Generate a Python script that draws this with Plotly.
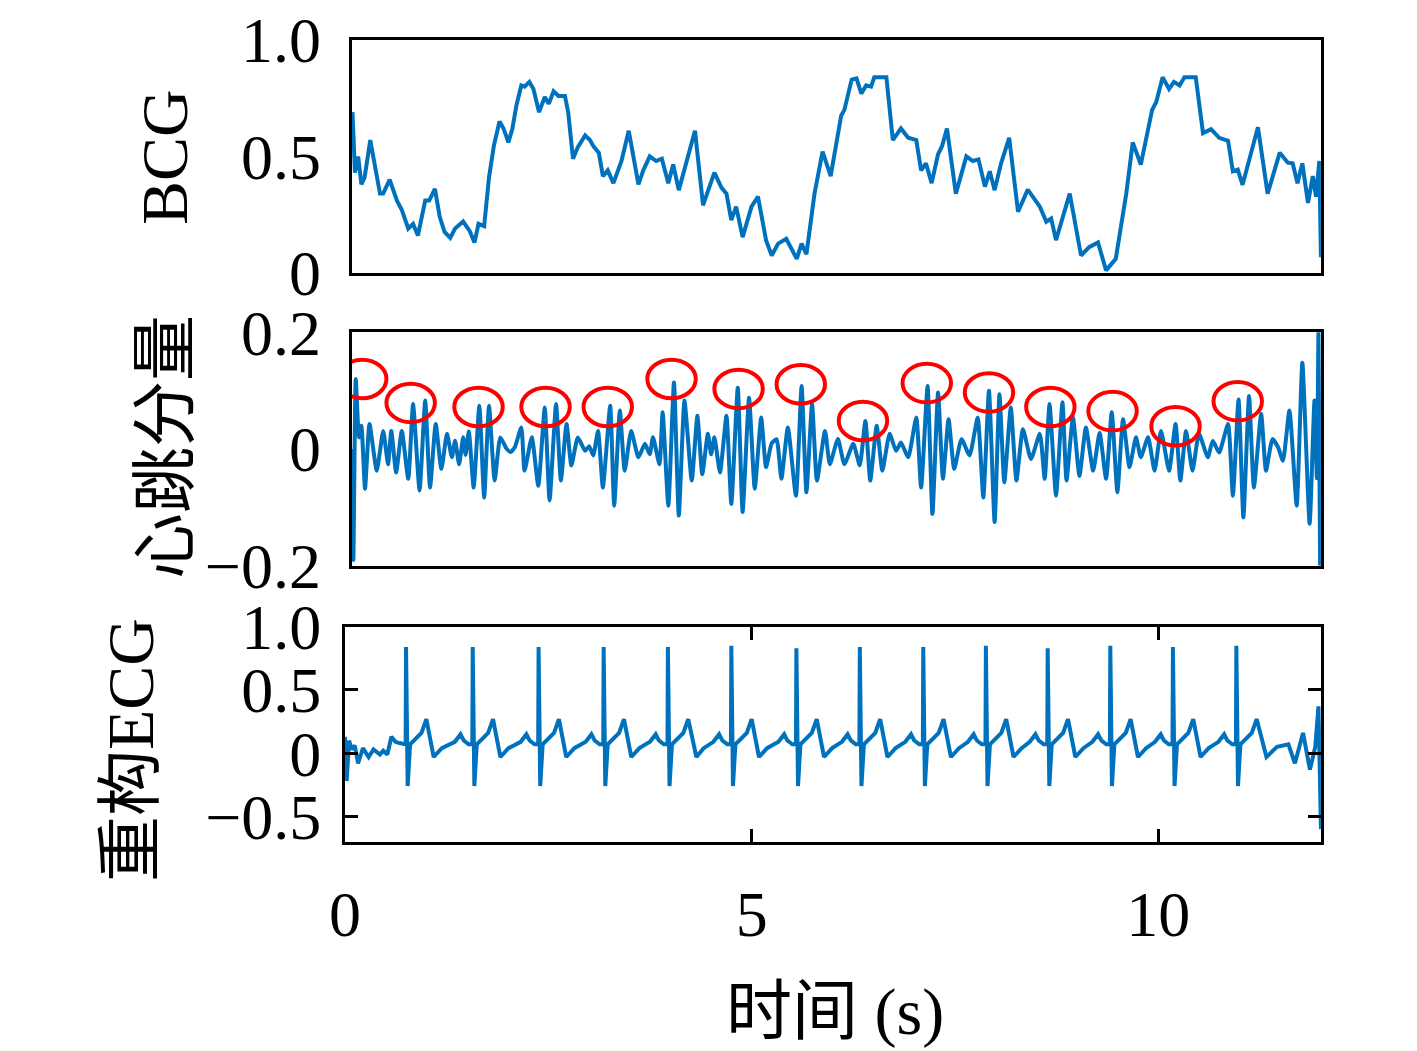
import plotly.graph_objects as go

# BCG signal (time s, amplitude)
bcg = [
    (0.01, 0.69), (0.04, 0.43), (0.08, 0.50), (0.12, 0.38), (0.16, 0.41), (0.23, 0.57),
    (0.35, 0.34), (0.39, 0.34), (0.47, 0.40), (0.56, 0.31), (0.62, 0.27), (0.70, 0.19),
    (0.76, 0.21), (0.82, 0.16), (0.91, 0.31), (0.96, 0.31), (1.03, 0.36), (1.09, 0.24),
    (1.15, 0.175), (1.22, 0.15), (1.28, 0.19), (1.38, 0.22), (1.46, 0.18), (1.52, 0.13),
    (1.57, 0.21), (1.64, 0.20), (1.70, 0.41), (1.76, 0.545), (1.83, 0.65), (1.88, 0.62),
    (1.94, 0.56), (1.99, 0.62), (2.04, 0.72), (2.10, 0.805), (2.14, 0.80), (2.20, 0.82),
    (2.25, 0.79), (2.32, 0.69), (2.39, 0.755), (2.44, 0.726), (2.50, 0.78), (2.56, 0.76),
    (2.64, 0.76), (2.68, 0.69), (2.74, 0.49), (2.80, 0.54), (2.89, 0.59), (2.95, 0.57),
    (2.99, 0.545), (3.06, 0.515), (3.11, 0.415), (3.17, 0.44), (3.24, 0.385), (3.34, 0.48),
    (3.43, 0.61), (3.55, 0.38), (3.61, 0.44), (3.69, 0.50), (3.77, 0.48), (3.84, 0.49),
    (3.92, 0.385), (3.98, 0.465), (4.05, 0.355), (4.14, 0.47), (4.25, 0.61), (4.35, 0.29),
    (4.49, 0.43), (4.58, 0.365), (4.64, 0.34), (4.70, 0.226), (4.76, 0.284), (4.84, 0.153),
    (4.95, 0.284), (5.03, 0.327), (5.13, 0.14), (5.20, 0.074), (5.28, 0.125), (5.38, 0.146),
    (5.44, 0.11), (5.51, 0.06), (5.57, 0.125), (5.63, 0.08), (5.73, 0.34), (5.83, 0.52),
    (5.93, 0.415), (6.00, 0.56), (6.06, 0.675), (6.10, 0.70), (6.19, 0.83), (6.25, 0.835),
    (6.31, 0.77), (6.37, 0.805), (6.43, 0.80), (6.47, 0.84), (6.62, 0.84), (6.70, 0.57),
    (6.80, 0.62), (6.89, 0.58), (6.99, 0.57), (7.05, 0.44), (7.11, 0.47), (7.18, 0.385),
    (7.26, 0.51), (7.31, 0.545), (7.37, 0.62), (7.48, 0.34), (7.61, 0.50), (7.69, 0.48),
    (7.76, 0.487), (7.84, 0.37), (7.90, 0.436), (7.96, 0.355), (8.04, 0.47), (8.14, 0.58),
    (8.25, 0.262), (8.37, 0.357), (8.52, 0.284), (8.60, 0.219), (8.66, 0.233), (8.72, 0.14),
    (8.89, 0.34), (9.03, 0.074), (9.13, 0.11), (9.24, 0.13), (9.34, 0.01), (9.46, 0.06),
    (9.59, 0.34), (9.67, 0.56), (9.77, 0.465), (9.91, 0.70), (9.96, 0.733), (10.04, 0.84),
    (10.12, 0.79), (10.18, 0.82), (10.25, 0.805), (10.31, 0.84), (10.45, 0.84), (10.54, 0.60),
    (10.64, 0.617), (10.74, 0.58), (10.85, 0.567), (10.91, 0.436), (10.97, 0.443), (11.03, 0.378),
    (11.15, 0.53), (11.22, 0.625), (11.34, 0.34), (11.49, 0.516), (11.59, 0.473), (11.65, 0.47),
    (11.71, 0.385), (11.77, 0.47), (11.84, 0.30), (11.90, 0.415), (11.94, 0.327), (11.98, 0.48),
    (12.00, 0.067),
]

# heartbeat component (time s, amplitude)
heart = [
    (0.00, 0.00), (0.02, -0.19), (0.05, 0.12), (0.09, 0.02), (0.12, 0.04), (0.165, -0.068),
    (0.22, 0.043), (0.31, -0.037), (0.39, 0.031), (0.45, -0.026), (0.49, 0.031), (0.55, -0.04),
    (0.62, 0.031), (0.70, -0.051), (0.76, 0.077), (0.84, -0.071), (0.91, 0.083), (0.97, -0.066),
    (1.04, 0.043), (1.11, -0.034), (1.18, 0.026), (1.24, -0.014), (1.28, 0.014), (1.33, -0.026),
    (1.38, 0.02), (1.41, -0.01), (1.45, 0.03), (1.51, -0.066), (1.58, 0.074), (1.64, -0.083),
    (1.70, 0.074), (1.77, -0.054), (1.84, 0.02), (1.92, 0.0), (1.97, -0.005), (2.02, 0.003),
    (2.10, 0.037), (2.14, -0.037), (2.23, 0.02), (2.31, -0.063), (2.39, 0.071), (2.45, -0.088),
    (2.53, 0.077), (2.59, -0.054), (2.66, 0.043), (2.72, -0.028), (2.80, 0.02), (2.89, -0.003),
    (2.94, 0.005), (2.99, -0.011), (3.05, 0.031), (3.11, -0.066), (3.20, 0.074), (3.25, -0.097),
    (3.32, 0.066), (3.38, -0.037), (3.46, 0.031), (3.55, -0.014), (3.63, 0.009), (3.69, -0.009),
    (3.73, 0.02), (3.81, -0.026), (3.85, 0.063), (3.92, -0.097), (3.99, 0.114), (4.05, -0.114),
    (4.12, 0.083), (4.21, -0.054), (4.28, 0.057), (4.34, -0.043), (4.41, 0.026), (4.45, -0.009),
    (4.49, 0.02), (4.56, -0.04), (4.64, 0.057), (4.70, -0.094), (4.78, 0.105), (4.84, -0.108),
    (4.92, 0.088), (4.99, -0.068), (5.07, 0.054), (5.13, -0.031), (5.20, 0.01), (5.26, 0.017),
    (5.32, -0.051), (5.40, 0.037), (5.50, -0.08), (5.57, 0.108), (5.63, -0.074), (5.70, 0.077),
    (5.76, -0.054), (5.86, 0.031), (5.92, -0.026), (6.02, 0.017), (6.10, -0.026), (6.21, 0.009),
    (6.29, -0.028), (6.36, 0.048), (6.42, -0.054), (6.50, 0.04), (6.57, -0.037), (6.66, 0.026),
    (6.74, -0.003), (6.80, 0.011), (6.89, -0.014), (6.99, 0.054), (7.05, -0.066), (7.13, 0.108),
    (7.19, -0.111), (7.26, 0.097), (7.32, -0.051), (7.39, 0.051), (7.46, -0.034), (7.55, 0.017),
    (7.65, -0.011), (7.75, 0.054), (7.82, -0.083), (7.89, 0.10), (7.96, -0.125), (8.02, 0.094),
    (8.08, -0.057), (8.16, 0.071), (8.23, -0.054), (8.31, 0.034), (8.41, -0.017), (8.52, 0.026),
    (8.58, -0.051), (8.64, 0.077), (8.72, -0.08), (8.80, 0.08), (8.85, -0.054), (8.93, 0.054),
    (9.01, -0.046), (9.09, 0.037), (9.18, -0.037), (9.26, 0.028), (9.34, -0.051), (9.41, 0.063),
    (9.48, -0.074), (9.55, 0.051), (9.63, -0.031), (9.71, 0.02), (9.77, -0.014), (9.86, 0.02),
    (9.94, -0.037), (10.02, 0.031), (10.12, -0.037), (10.20, 0.043), (10.26, -0.054), (10.33, 0.031),
    (10.41, -0.037), (10.49, 0.026), (10.60, -0.014), (10.66, 0.014), (10.74, -0.006), (10.85, 0.043),
    (10.91, -0.08), (10.98, 0.085), (11.04, -0.117), (11.11, 0.091), (11.17, -0.066), (11.26, 0.06),
    (11.32, -0.037), (11.40, 0.017), (11.47, 0.003), (11.53, -0.02), (11.61, 0.066), (11.70, -0.097),
    (11.77, 0.148), (11.86, -0.128), (11.92, 0.083), (11.95, -0.05), (11.97, 0.20), (11.99, -0.20),
]

# detected beats (circled peaks)
beat_t = [0.13, 0.73, 1.57, 2.40, 3.17, 3.96, 4.79, 5.56, 6.33, 7.12, 7.89, 8.65, 9.42, 10.20, 10.97]
beat_v = [0.12, 0.079, 0.072, 0.072, 0.072, 0.12, 0.103, 0.111, 0.048, 0.113, 0.097, 0.072, 0.065, 0.039, 0.082]

# reconstructed ECG (time s, amplitude)
ecg = [
    (0.00, 0.13), (0.02, -0.22), (0.05, 0.10), (0.08, 0.03), (0.12, 0.06), (0.16, -0.08),
    (0.22, 0.04), (0.29, -0.03), (0.35, 0.03), (0.43, -0.01), (0.47, 0.02), (0.52, -0.01),
    (0.57, 0.13), (0.62, 0.09), (0.67, 0.08), (0.72, 0.07),
    (0.745, 0.07), (0.75, 0.84), (0.77, -0.26), (0.80, 0.07), (0.89, 0.13), (0.94, 0.16),
    (1.00, 0.27), (1.09, -0.03), (1.19, 0.04), (1.29, 0.07), (1.35, 0.09), (1.42, 0.15),
    (1.46, 0.10), (1.52, 0.07),
    (1.565, 0.07), (1.57, 0.84), (1.59, -0.26), (1.62, 0.07), (1.71, 0.13), (1.76, 0.16),
    (1.82, 0.27), (1.91, -0.03), (2.01, 0.04), (2.10, 0.07), (2.16, 0.09), (2.23, 0.15),
    (2.27, 0.10), (2.33, 0.07),
    (2.375, 0.07), (2.38, 0.84), (2.40, -0.26), (2.43, 0.07), (2.52, 0.13), (2.57, 0.16),
    (2.63, 0.27), (2.72, -0.03), (2.82, 0.04), (2.91, 0.07), (2.96, 0.09), (3.03, 0.15),
    (3.07, 0.10), (3.13, 0.07),
    (3.175, 0.07), (3.18, 0.84), (3.20, -0.26), (3.23, 0.07), (3.32, 0.13), (3.37, 0.16),
    (3.43, 0.27), (3.52, -0.03), (3.62, 0.04), (3.70, 0.07), (3.75, 0.09), (3.82, 0.15),
    (3.86, 0.10), (3.92, 0.07),
    (3.965, 0.07), (3.97, 0.84), (3.99, -0.26), (4.02, 0.07), (4.11, 0.13), (4.16, 0.16),
    (4.22, 0.27), (4.32, -0.03), (4.41, 0.04), (4.49, 0.07), (4.53, 0.09), (4.60, 0.15),
    (4.64, 0.10), (4.70, 0.07),
    (4.745, 0.07), (4.75, 0.85), (4.77, -0.26), (4.80, 0.07), (4.89, 0.13), (4.94, 0.16),
    (5.00, 0.27), (5.09, -0.03), (5.19, 0.04), (5.28, 0.07), (5.33, 0.09), (5.40, 0.15),
    (5.44, 0.10), (5.50, 0.07),
    (5.545, 0.07), (5.55, 0.83), (5.57, -0.26), (5.60, 0.07), (5.69, 0.13), (5.74, 0.16),
    (5.80, 0.27), (5.89, -0.03), (5.99, 0.04), (6.07, 0.07), (6.11, 0.09), (6.18, 0.15),
    (6.22, 0.10), (6.28, 0.07),
    (6.325, 0.07), (6.33, 0.84), (6.35, -0.26), (6.38, 0.07), (6.47, 0.13), (6.52, 0.16),
    (6.58, 0.27), (6.67, -0.03), (6.77, 0.04), (6.85, 0.07), (6.89, 0.09), (6.96, 0.15),
    (7.00, 0.10), (7.06, 0.07),
    (7.105, 0.07), (7.11, 0.84), (7.13, -0.26), (7.16, 0.07), (7.25, 0.13), (7.30, 0.16),
    (7.36, 0.27), (7.45, -0.03), (7.55, 0.04), (7.62, 0.07), (7.66, 0.09), (7.73, 0.15),
    (7.77, 0.10), (7.83, 0.07),
    (7.875, 0.07), (7.88, 0.85), (7.90, -0.26), (7.93, 0.07), (8.02, 0.13), (8.07, 0.16),
    (8.13, 0.27), (8.22, -0.03), (8.32, 0.04), (8.38, 0.07), (8.42, 0.09), (8.49, 0.15),
    (8.53, 0.10), (8.59, 0.07),
    (8.635, 0.07), (8.64, 0.83), (8.66, -0.26), (8.69, 0.07), (8.78, 0.13), (8.83, 0.16),
    (8.89, 0.27), (8.98, -0.03), (9.08, 0.04), (9.15, 0.07), (9.19, 0.09), (9.26, 0.15),
    (9.30, 0.10), (9.36, 0.07),
    (9.405, 0.07), (9.41, 0.85), (9.43, -0.26), (9.46, 0.07), (9.55, 0.13), (9.60, 0.16),
    (9.66, 0.27), (9.75, -0.03), (9.85, 0.04), (9.92, 0.07), (9.96, 0.09), (10.03, 0.15),
    (10.07, 0.10), (10.13, 0.07),
    (10.175, 0.07), (10.18, 0.84), (10.20, -0.26), (10.23, 0.07), (10.32, 0.13), (10.37, 0.16),
    (10.43, 0.27), (10.52, -0.03), (10.62, 0.04), (10.70, 0.07), (10.74, 0.09), (10.81, 0.15),
    (10.85, 0.10), (10.91, 0.07),
    (10.955, 0.07), (10.96, 0.85), (10.98, -0.26), (11.01, 0.07), (11.10, 0.13), (11.15, 0.16),
    (11.21, 0.27), (11.33, -0.03), (11.46, 0.05), (11.60, 0.07), (11.68, -0.08), (11.78, 0.16),
    (11.865, -0.13), (11.93, 0.05), (11.97, 0.37), (12.00, -0.60),
]

bcg_t, bcg_v = zip(*bcg)
heart_t, heart_v = zip(*heart)
ecg_t, ecg_v = zip(*ecg)

blue = "#0072BD"
serif = "Liberation Serif, Noto Sans CJK SC, serif"

fig = go.Figure()
fig.add_trace(go.Scatter(x=bcg_t, y=bcg_v, mode="lines", line=dict(color=blue, width=4),
                         xaxis="x", yaxis="y"))
fig.add_trace(go.Scatter(x=heart_t, y=heart_v, mode="lines",
                         line=dict(color=blue, width=4, shape="spline", smoothing=0.5),
                         xaxis="x2", yaxis="y2"))
fig.add_trace(go.Scatter(x=ecg_t, y=ecg_v, mode="lines", line=dict(color=blue, width=4),
                         xaxis="x3", yaxis="y3"))

# red ellipses round the detected beats
for t, v in zip(beat_t, beat_v):
    fig.add_shape(type="circle", xref="x2", yref="y2",
                  x0=t - 0.30, x1=t + 0.30, y0=v - 0.033, y1=v + 0.033,
                  line=dict(color="#FF0000", width=4))

axis_line = dict(showline=True, linecolor="black", linewidth=3,
                 showgrid=False, zeroline=False)
tick_font = dict(family=serif, size=64, color="black")

top_dom = [0.2482, 0.9322]
fig.update_layout(
    width=1417, height=1051, showlegend=False,
    paper_bgcolor="white", plot_bgcolor="white",
    margin=dict(l=0, r=0, t=0, b=0, autoexpand=False),
    xaxis=dict(domain=top_dom, range=[0, 12], anchor="y", showticklabels=False,
               ticks="", mirror=True, **axis_line),
    yaxis=dict(domain=[0.7405, 0.9619], range=[0, 1.0], anchor="x",
               tickvals=[0, 0.5, 1.0], ticktext=["0", "0.5", "1.0"], ticks="", mirror=True,
               tickfont=tick_font, ticklabelstandoff=15, **axis_line),
    xaxis2=dict(domain=top_dom, range=[0, 12], anchor="y2", showticklabels=False,
                ticks="", mirror=True, **axis_line),
    yaxis2=dict(domain=[0.4617, 0.6838], range=[-0.2, 0.2], anchor="x2",
                tickvals=[-0.2, 0, 0.2], ticktext=["\u22120.2", "0", "0.2"], ticks="", mirror=True,
                tickfont=tick_font, ticklabelstandoff=15, **axis_line),
    xaxis3=dict(domain=[0.2435, 0.9322], range=[0, 12], anchor="y3",
                tickvals=[0, 5, 10], ticktext=["0", "5", "10"], mirror="ticks",
                ticks="inside", ticklen=13, tickwidth=3, tickcolor="black",
                tickfont=tick_font, ticklabelstandoff=14, **axis_line),
    yaxis3=dict(domain=[0.1991, 0.4037], range=[-0.7, 1.0], anchor="x3",
                tickvals=[-0.5, 0, 0.5, 1.0], ticktext=["\u22120.5", "0", "0.5", "1.0"],
                mirror="ticks", ticks="inside", ticklen=13, tickwidth=3, tickcolor="black",
                tickfont=tick_font, ticklabelstandoff=8, **axis_line),
)

title_font = dict(family=serif, size=66, color="black")
titles = [
    ("BCG", 165, 157, -90),
    ("心跳分量", 165, 447, -90),
    ("重构ECG", 130, 750, -90),
    ("时间 (s)", 835, 1012, 0),
]
for text, px, py, ang in titles:
    fig.add_annotation(text=text, xref="paper", yref="paper",
                       x=px / 1417, y=1 - py / 1051, xanchor="center", yanchor="middle",
                       textangle=ang, showarrow=False, font=title_font)

# drop the browser's default page margin so the figure sits at the window corner
fig.write_html("out.html", config={"displayModeBar": False},
               post_script="document.body.style.margin = '0';")
